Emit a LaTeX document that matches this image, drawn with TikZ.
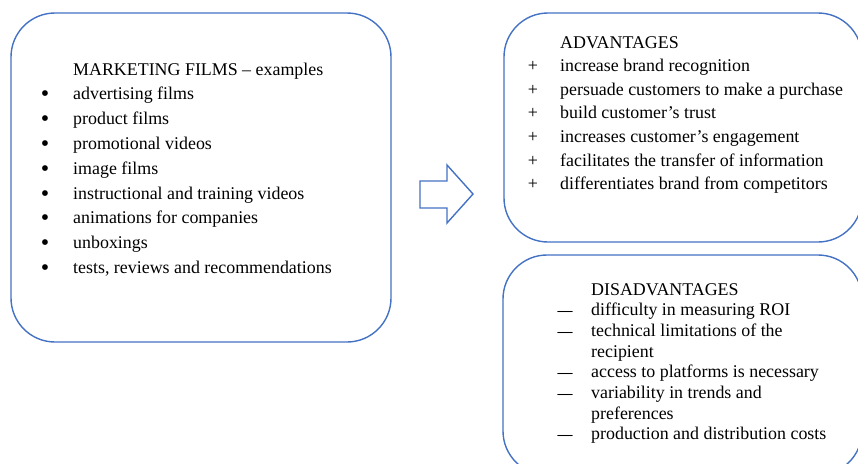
\documentclass[tikz,border=0pt]{standalone}
\usepackage{fontspec}
\setmainfont{Liberation Serif}
\usetikzlibrary{positioning}
\definecolor{frameblue}{HTML}{4472C4}

\begin{document}
\begin{tikzpicture}[x=1pt,y=-1pt,
			roundbox/.style={draw=frameblue, line width=1.4pt, rounded corners=44pt, inner sep=0pt},
			itemtext/.style={anchor=base west, inner sep=0pt, font=\fontsize{17.9}{21}\selectfont},
			itemmark/.style={anchor=base, inner sep=0pt, font=\fontsize{17.9}{21}\selectfont},
			]
			\useasboundingbox (0,0) rectangle (858,463);
			%Boxes
			\node[roundbox, minimum width=380pt, minimum height=329pt] (films) at (201,177.5) {};
			\node[roundbox, minimum width=358pt, minimum height=229pt] (pros)  at (683,127.5) {};
			\node[roundbox, minimum width=359pt, minimum height=220pt] (cons)  at (682.5,365) {};
			
			%Arrow
			\draw[frameblue, line width=1.4pt, line join=miter]
				(420,181) -- (447,181) -- (447,165) -- (473,194) -- (447,223) -- (447,208) -- (420,208) -- cycle;
			
			%Marketing films
			\node[itemtext] (ftitle) at (73,75) {MARKETING FILMS -- examples};
			\foreach \txt [count=\i] in {advertising films, product films, promotional videos, image films,
				instructional and training videos, animations for companies, unboxings,
				{tests, reviews and recommendations}} {
				\node[itemmark, font=\fontsize{24}{24}\selectfont] (fm\i) at (45,77+24.8*\i) {•};
				\node[itemtext] (f\i) at (73,75+24.8*\i) {\txt};
			}
			
			%Advantages
			\node[itemtext] (atitle) at (560,48) {ADVANTAGES};
			\foreach \txt [count=\i] in {increase brand recognition, persuade customers to make a purchase,
				build customer’s trust, increases customer’s engagement,
				facilitates the transfer of information, differentiates brand from competitors} {
				\node[itemmark] (am\i) at (533,48+23.6*\i) {+};
				\node[itemtext] (a\i) at (560,48+23.6*\i) {\txt};
			}
			
			%Disadvantages
			\node[itemtext] (dtitle) at (591,295) {DISADVANTAGES};
			\foreach \mk/\txt [count=\i] in {{—}/{difficulty in measuring ROI}, {—}/{technical limitations of the},
				{}/{recipient}, {—}/{access to platforms is necessary}, {—}/{variability in trends and},
				{}/{preferences}, {—}/{production and distribution costs}} {
				\node[itemmark, font=\fontsize{15}{15}\bfseries] (dm\i) at (565,295+20.7*\i) {\mk};
				\node[itemtext] (d\i) at (591,295+20.7*\i) {\txt};
			}
		\end{tikzpicture}
\end{document}
